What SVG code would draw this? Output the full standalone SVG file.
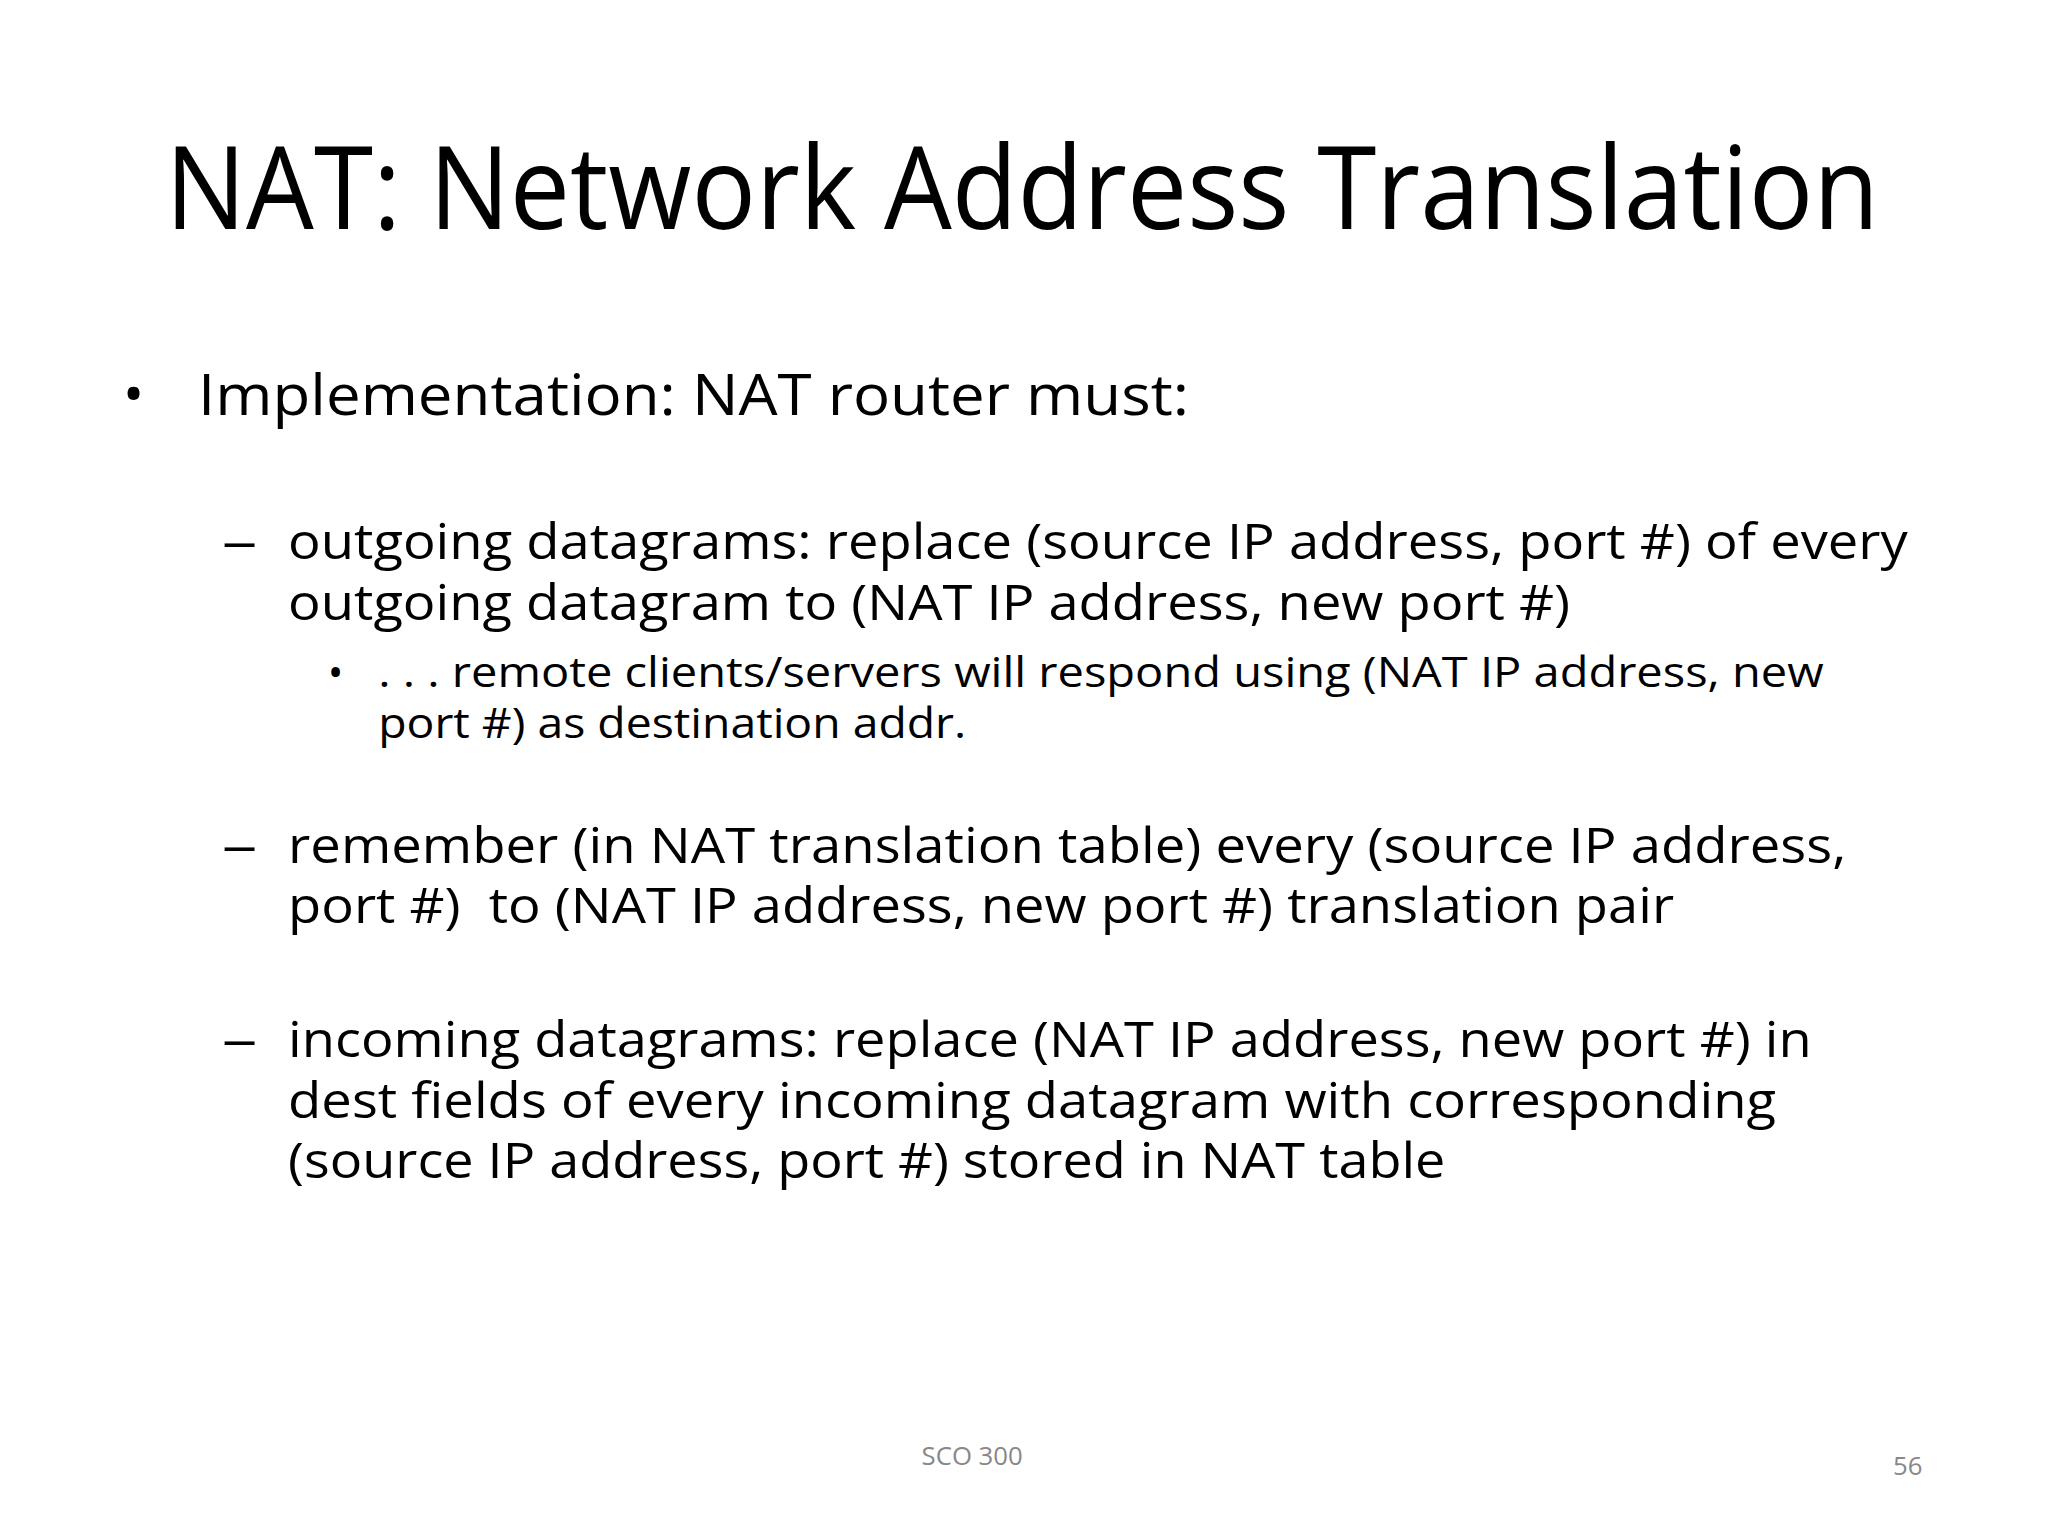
<svg xmlns="http://www.w3.org/2000/svg" width="2048" height="1536" viewBox="0 0 2048 1536">
<style>
text{font-family:"Open Sans",Lato,"Liberation Sans",sans-serif;fill:#000;font-variant-ligatures:none}
.t{font-size:116px}
.l1{font-size:58px}
.l2{font-size:50px}
.l3{font-size:42px}
.f{font-size:26px;fill:#888}
</style>
<rect width="2048" height="1536" fill="#fff"/>
<g transform="scale(0.99)">
<g id="title"><text class="t" x="167" y="231" textLength="1731" lengthAdjust="spacingAndGlyphs">NAT: Network Address Translation</text></g>
<g id="body">
<text class="l1" x="124" y="418">•</text>
<text class="l1" x="200" y="419" textLength="1001" lengthAdjust="spacingAndGlyphs">Implementation: NAT router must:</text>
<text class="l2" x="224" y="565" textLength="36" lengthAdjust="spacingAndGlyphs">–</text>
<text class="l2" x="291" y="565" textLength="1636" lengthAdjust="spacingAndGlyphs">outgoing datagrams: replace (source IP address, port #) of every</text>
<text class="l2" x="291" y="626" textLength="1295" lengthAdjust="spacingAndGlyphs">outgoing datagram to (NAT IP address, new port #)</text>
<text class="l3" x="331" y="694">•</text>
<text class="l3" x="382" y="694" textLength="1460" lengthAdjust="spacingAndGlyphs">. . . remote clients/servers will respond using (NAT IP address, new</text>
<text class="l3" x="382" y="745" textLength="594" lengthAdjust="spacingAndGlyphs">port #) as destination addr.</text>
<text class="l2" x="224" y="872" textLength="36" lengthAdjust="spacingAndGlyphs">–</text>
<text class="l2" x="291" y="872" textLength="1574" lengthAdjust="spacingAndGlyphs">remember (in NAT translation table) every (source IP address,</text>
<text class="l2" x="291" y="932" textLength="1400" lengthAdjust="spacingAndGlyphs" xml:space="preserve">port #)  to (NAT IP address, new port #) translation pair</text>
<text class="l2" x="224" y="1068" textLength="36" lengthAdjust="spacingAndGlyphs">–</text>
<text class="l2" x="291" y="1068" textLength="1539" lengthAdjust="spacingAndGlyphs">incoming datagrams: replace (NAT IP address, new port #) in</text>
<text class="l2" x="291" y="1129" textLength="1503" lengthAdjust="spacingAndGlyphs">dest fields of every incoming datagram with corresponding</text>
<text class="l2" x="291" y="1190" textLength="1169" lengthAdjust="spacingAndGlyphs">(source IP address, port #) stored in NAT table</text>
</g>
<g id="footer">
<text class="f" x="982" y="1480" text-anchor="middle">SCO 300</text>
<text class="f" x="1927" y="1490" text-anchor="middle">56</text>
</g>
</g>
</svg>
